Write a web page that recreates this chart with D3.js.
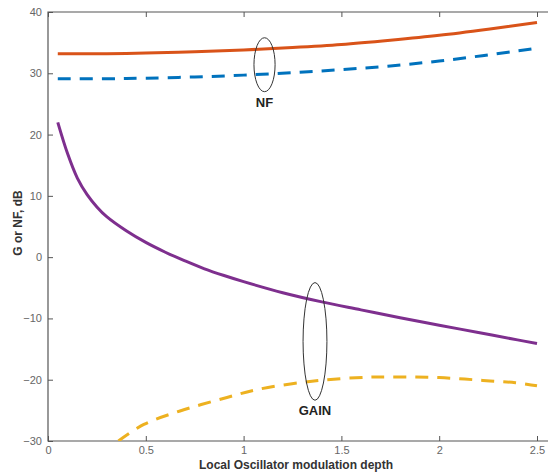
<!DOCTYPE html>
<html>
<head>
<meta charset="utf-8">
<script src="https://cdn.jsdelivr.net/npm/d3@7"></script>
<style>
  body { margin: 0; background: #fff; }
  text { font-family: "Liberation Sans", Arial, Helvetica, sans-serif; }
</style>
</head>
<body>
<svg id="chart" width="548" height="472"></svg>
<script>
// values
var nfSolidX   = [0.05, 0.3, 0.5, 0.75, 1.0, 1.25, 1.5, 1.75, 2.0, 2.25, 2.5];
var nfSolidY   = [33.2, 33.2, 33.3, 33.5, 33.8, 34.2, 34.7, 35.4, 36.2, 37.2, 38.3];
var nfDashX    = [0.05, 0.3, 0.5, 0.75, 1.0, 1.25, 1.5, 1.75, 2.0, 2.25, 2.5];
var nfDashY    = [29.1, 29.1, 29.2, 29.4, 29.7, 30.1, 30.6, 31.2, 32.0, 33.0, 34.1];
var gainSolidX = [0.05, 0.1, 0.15, 0.2, 0.25, 0.3, 0.4, 0.5, 0.6, 0.7, 0.8, 0.9, 1.0, 1.2, 1.4, 1.6, 1.8, 2.0, 2.2, 2.4, 2.5];
var gainSolidY = [22.0, 16.9, 12.9, 10.2, 8.2, 6.6, 4.3, 2.4, 0.8, -0.6, -1.9, -3.0, -4.0, -5.8, -7.3, -8.6, -9.9, -11.1, -12.3, -13.5, -14.1];
var gainDashX  = [0.36, 0.49, 0.675, 0.915, 1.07, 1.36, 1.63, 1.75, 1.88, 2.0, 2.13, 2.26, 2.39, 2.5];
var gainDashY  = [-30.0, -27.3, -25.1, -22.9, -21.6, -20.2, -19.6, -19.55, -19.55, -19.65, -19.9, -20.2, -20.5, -21.0];

var xTicks = [0, 0.5, 1, 1.5, 2, 2.5];
var yTicks = [-30, -20, -10, 0, 10, 20, 30, 40];

// annotation ellipses [cx, cy, rx, ry] in data units, and their labels
var ellipses = [[1.107, 31.4, 0.054, 4.4], [1.365, -13.75, 0.061, 9.6]];
var ellipseLabels = ["NF", "GAIN"];

var svg = d3.select("#chart");
var padL = 48, padT = 12, padR = 548, padB = 441;

var x = d3.scaleLinear().domain([0, 2.5]).range([padL, 537]);
var y = d3.scaleLinear().domain([-30, 40]).range([padB, padT]);

var g = svg.append("g");

svg.append("defs").append("clipPath").attr("id", "clip")
  .append("rect").attr("x", padL).attr("y", padT)
  .attr("width", padR - padL).attr("height", padB - padT);

// axes
var axisColor = "#555";
var bottomAxis = d3.axisBottom(x).tickValues(xTicks).tickSize(-5).tickPadding(5)
  .tickFormat(function (d) { return d; });
var topAxis = d3.axisTop(x).tickValues(xTicks).tickSize(-5).tickFormat("");
var leftAxis = d3.axisLeft(y).tickValues(yTicks).tickSize(-5).tickPadding(6);

function styleAxis(sel) {
  sel.select(".domain").remove();
  sel.selectAll("line").attr("stroke", axisColor);
  sel.selectAll("text").attr("fill", "#666").style("font-size", "11px");
}

g.append("g").attr("transform", "translate(0," + padB + ")").call(bottomAxis).call(styleAxis);
g.append("g").attr("transform", "translate(0," + padT + ")").call(topAxis).call(styleAxis);
g.append("g").attr("transform", "translate(" + padL + ",0)").call(leftAxis).call(styleAxis);

g.append("path")
  .attr("d", "M" + padR + "," + padT + "H" + padL + "V" + padB + "H" + padR)
  .attr("fill", "none").attr("stroke", axisColor).attr("stroke-width", 1.2);

// curves
var line = d3.line()
  .x(function (d) { return x(d[0]); })
  .y(function (d) { return y(d[1]); })
  .curve(d3.curveCatmullRom.alpha(0.5));

var series = [
  { xs: gainDashX, ys: gainDashY, color: "#EDB120", dash: "13,9" },
  { xs: gainSolidX, ys: gainSolidY, color: "#7E2F8E", dash: null },
  { xs: nfDashX, ys: nfDashY, color: "#0072BD", dash: "13,9" },
  { xs: nfSolidX, ys: nfSolidY, color: "#D95319", dash: null }
];

var plot = g.append("g").attr("clip-path", "url(#clip)");
series.forEach(function (s) {
  var pts = s.xs.map(function (v, i) { return [v, s.ys[i]]; });
  plot.append("path")
    .datum(pts)
    .attr("d", line)
    .attr("fill", "none")
    .attr("stroke", s.color)
    .attr("stroke-width", 3)
    .attr("stroke-dasharray", s.dash);
});

// ellipses and labels
ellipses.forEach(function (e, i) {
  var ry = y(e[1] - e[3]) - y(e[1]);
  g.append("ellipse")
    .attr("cx", x(e[0])).attr("cy", y(e[1]))
    .attr("rx", x(e[2]) - x(0)).attr("ry", ry)
    .attr("fill", "none").attr("stroke", "#333").attr("stroke-width", 1);
  g.append("text")
    .attr("x", x(e[0])).attr("y", y(e[1]) + ry + 15)
    .attr("text-anchor", "middle")
    .style("font-size", "13px").style("font-weight", "bold")
    .attr("fill", "#222")
    .text(ellipseLabels[i]);
});

// axis titles
g.append("text")
  .attr("x", 296).attr("y", 469)
  .attr("text-anchor", "middle")
  .style("font-size", "12px").style("font-weight", "bold").attr("fill", "#333")
  .text("Local Oscillator modulation depth");

g.append("text")
  .attr("transform", "translate(22,223) rotate(-90)")
  .attr("text-anchor", "middle")
  .style("font-size", "12px").style("font-weight", "bold").attr("fill", "#333")
  .text("G or NF, dB");
</script>
</body>
</html>
